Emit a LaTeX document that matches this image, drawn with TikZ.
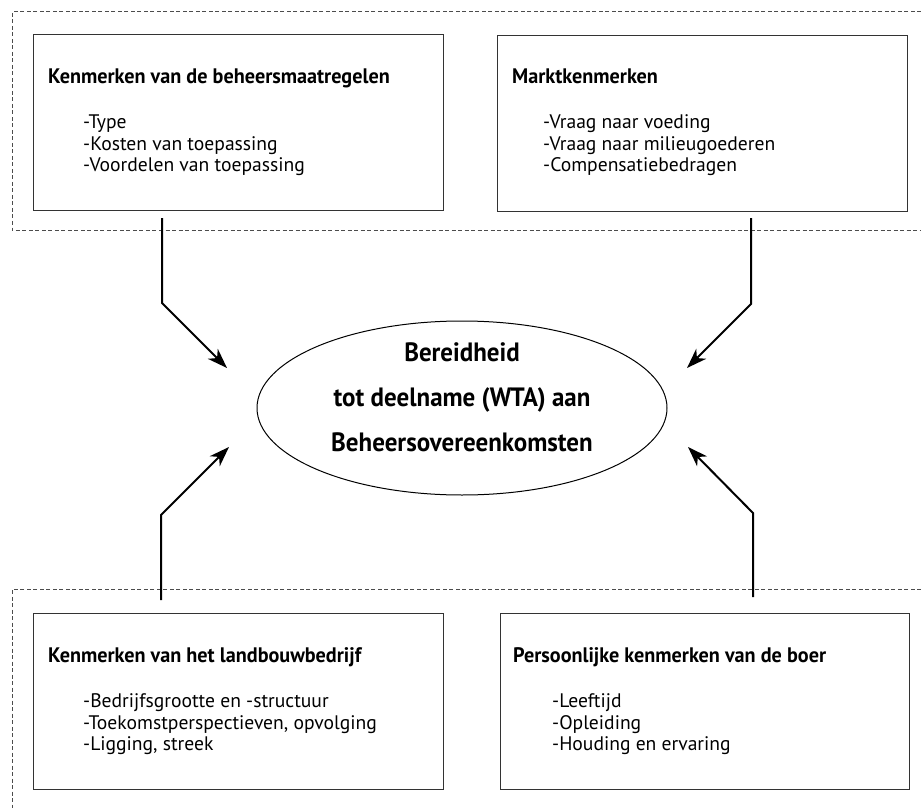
\documentclass[tikz,border=0pt]{standalone}
\usepackage{fontspec}
\setmainfont{PT Sans}
\newfontfamily\titlefont{PT Sans}[FakeStretch=0.962]
\newfontfamily\goalfont{PT Sans}[FakeStretch=0.942]
\usetikzlibrary{arrows.meta,shapes.geometric}
\begin{document}
\begin{tikzpicture}[x=1pt,y=-1pt,
  frame/.style={draw=black!70, line width=1pt, dash pattern=on 4pt off 2.5pt},
  infobox/.style={draw=black!80, line width=1.3pt, minimum width=410pt, minimum height=176pt, anchor=north west, inner sep=0pt},
  boxtitle/.style={anchor=base west, inner sep=0pt, font=\titlefont\bfseries\fontsize{21pt}{25pt}\selectfont},
  boxitem/.style={anchor=base west, inner sep=0pt, font=\fontsize{19.6pt}{22pt}\selectfont},
  goaltext/.style={anchor=base, inner sep=0pt, font=\goalfont\bfseries\fontsize{26.5pt}{30pt}\selectfont},
  goal/.style={ellipse, draw=black, line width=1pt, minimum width=410pt, minimum height=174pt, inner sep=0pt},
  flow/.style={line width=2pt, -{Stealth[length=20pt,width=14pt,inset=6pt]}}]
\useasboundingbox (0,0) rectangle (921,808);

% dashed frames
\draw[frame] (921,12) -- (12,12) -- (12,230) -- (921,230);
\draw[frame] (921,589) -- (12,589) -- (12,808);

% boxes
\node[infobox] (bmaat) at (33,34) {};
\node[infobox] (bmarkt) at (497,35) {};
\node[infobox] (bbedrijf) at (33,613) {};
\node[infobox, minimum width=409pt] (bboer) at (500,613) {};

% top-left texts
\node[boxtitle] (tmaat) at (48,83) {Kenmerken van de beheersmaatregelen};
\node[boxitem] (imaat1) at (83,128) {-Type};
\node[boxitem] (imaat2) at (83,150) {-Kosten van toepassing};
\node[boxitem] (imaat3) at (83,171) {-Voordelen van toepassing};

% top-right texts
\node[boxtitle] (tmarkt) at (512,83) {Marktkenmerken};
\node[boxitem] (imarkt1) at (543,128) {-Vraag naar voeding};
\node[boxitem] (imarkt2) at (543,150) {-Vraag naar milieugoederen};
\node[boxitem] (imarkt3) at (543,171) {-Compensatiebedragen};

% bottom-left texts
\node[boxtitle] (tbedrijf) at (48,662) {Kenmerken van het landbouwbedrijf};
\node[boxitem] (ibedrijf1) at (83,707) {-Bedrijfsgrootte en -structuur};
\node[boxitem] (ibedrijf2) at (83,729) {-Toekomstperspectieven, opvolging};
\node[boxitem] (ibedrijf3) at (83,750) {-Ligging, streek};

% bottom-right texts
\node[boxtitle] (tboer) at (513,662) {Persoonlijke kenmerken van de boer};
\node[boxitem] (iboer1) at (552,707) {-Leeftijd};
\node[boxitem] (iboer2) at (552,729) {-Opleiding};
\node[boxitem] (iboer3) at (552,750) {-Houding en ervaring};

% central ellipse
\node[goal] (wta) at (462,408) {};
\node[goaltext] (g1) at (462,361) {Bereidheid};
\node[goaltext] (g2) at (462,406) {tot deelname (WTA) aan};
\node[goaltext] (g3) at (462,451) {Beheersovereenkomsten};

% connector coordinates
\coordinate (s1) at (162,218); \coordinate (k1) at (162,303); \coordinate (e1) at (227,368);
\coordinate (s2) at (751,218); \coordinate (k2) at (751,304); \coordinate (e2) at (687,368);
\coordinate (s3) at (161,600); \coordinate (k3) at (161,515); \coordinate (e3) at (229,447);
\coordinate (s4) at (753,597); \coordinate (k4) at (753,513); \coordinate (e4) at (688,447);

\draw[flow] (s1) -- (k1) -- (e1);
\draw[flow] (s2) -- (k2) -- (e2);
\draw[flow] (s3) -- (k3) -- (e3);
\draw[flow] (s4) -- (k4) -- (e4);
\end{tikzpicture}
\end{document}
